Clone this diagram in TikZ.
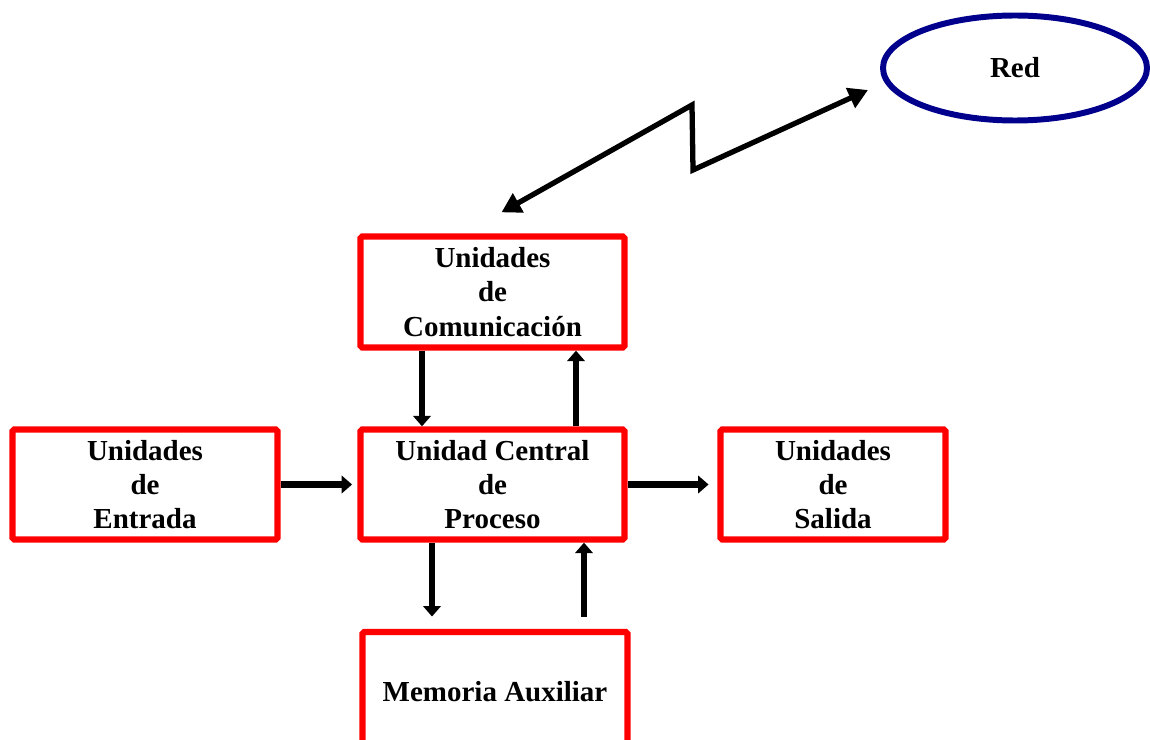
\documentclass[tikz,border=0pt]{standalone}
\usepackage{fontspec}
\setmainfont{Liberation Serif}
\usetikzlibrary{arrows.meta,shapes.geometric}
\begin{document}
\begin{tikzpicture}[x=0.02cm,y=-0.02cm,
  unitbox/.style={draw=red, line width=3.6pt, rounded corners=1pt, align=center,
    font=\fontsize{16.5}{19.5}\selectfont\bfseries, inner sep=0pt},
  arr/.style={line width=3.6pt, -{Triangle[length=6pt,width=10pt]}},
  bolt/.style={line width=3pt, line join=miter, {Triangle[length=11pt,width=12pt]}-{Triangle[length=11pt,width=12pt]}}]
\clip (0,0) rectangle (1150,740);
\fill[white] (0,0) rectangle (1150,740);
\node[unitbox, minimum width=264*0.02cm, minimum height=111*0.02cm] (comm) at (492.5,292) {Unidades\\de\\Comunicación};
\node[unitbox, minimum width=264*0.02cm, minimum height=110*0.02cm] (cpu) at (492.5,484.5) {Unidad Central\\de\\Proceso};
\node[unitbox, minimum width=265*0.02cm, minimum height=110*0.02cm] (ent) at (145,484.5) {Unidades\\de\\Entrada};
\node[unitbox, minimum width=225*0.02cm, minimum height=110*0.02cm] (sal) at (833,484.5) {Unidades\\de\\Salida};
\node[unitbox, minimum width=265*0.02cm, minimum height=120*0.02cm] (mem) at (495,692) {Memoria Auxiliar};
\node[draw={rgb,255:red,0;green,0;blue,140}, line width=3.4pt, ellipse, minimum width=264*0.02cm, minimum height=105*0.02cm,
  font=\fontsize{16.5}{19.5}\selectfont\bfseries] (red) at (1015,68) {Red};
% connectors
\draw[arr] (comm.south -| 422,0) -- (cpu.north -| 422,0);
\draw[arr] (cpu.north -| 576,0) -- (comm.south -| 576,0);
\draw[arr] (ent.east) -- ([xshift=-3pt]cpu.west);
\draw[arr] (cpu.east) -- ([xshift=-5pt]sal.west);
\draw[arr] (cpu.south -| 432,0) -- ([yshift=7pt]mem.north -| 432,0);
\draw[arr] ([yshift=7pt]mem.north -| 584,0) -- (cpu.south -| 584,0);
\coordinate (b1) at (692,105);
\coordinate (b2) at (693,170);
\draw[bolt] ([xshift=9*0.02cm,yshift=21*0.02cm]comm.north) -- (b1) -- (b2) -- ([xshift=-12*0.02cm,yshift=-22*0.02cm]red.west);
\end{tikzpicture}
\end{document}
